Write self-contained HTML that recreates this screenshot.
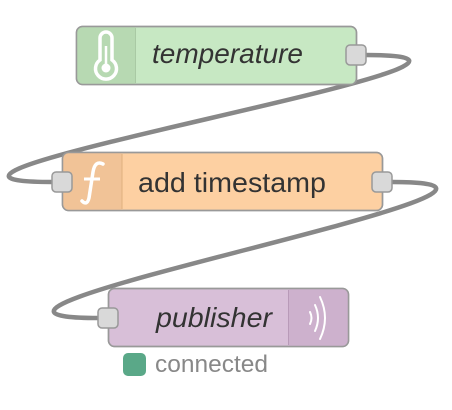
<!DOCTYPE html>
<html><head><meta charset="utf-8"><style>
html,body{margin:0;padding:0;background:#fff;}
svg{display:block;}
text{font-family:"Liberation Sans",sans-serif;}
</style></head><body>
<svg width="452" height="410" viewBox="0 0 452 410" xmlns="http://www.w3.org/2000/svg">
<g fill="none" stroke="#888" stroke-width="4.5">
<path d="M366,55 C596,55 -178,182 52,182"/>
<path d="M392,182 C622,182 -132,318 98,318"/>
</g>
<!-- temperature -->
<rect x="76.5" y="26.5" width="280" height="58" rx="6" fill="#c7e8c3" stroke="#999" stroke-width="1.5"/>
<path d="M82.5,26.5 h53 v58 h-53 a6,6 0 0 1 -6,-6 v-46 a6,6 0 0 1 6,-6z" fill="#b7d9b2"/>
<line x1="135.5" y1="28" x2="135.5" y2="83" stroke="#a9c9a4" stroke-width="1"/>
<rect x="76.5" y="26.5" width="280" height="58" rx="6" fill="none" stroke="#999" stroke-width="1.5"/>
<path d="M100,60 V38 a6,6 0 0 1 12,0 V60 A10.5,10.5 0 1 1 100,60 Z" fill="none" stroke="#fff" stroke-width="3.5"/>
<circle cx="106" cy="68" r="4.5" fill="#fff"/>
<line x1="106" y1="46" x2="106" y2="66" stroke="#fff" stroke-width="2.5"/>
<text x="152" y="63" font-size="28" font-style="italic" fill="#333" textLength="151" lengthAdjust="spacingAndGlyphs">temperature</text>
<rect x="346" y="45" width="20" height="20" rx="4" fill="#d9d9d9" stroke="#999" stroke-width="1.5"/>
<!-- add timestamp -->
<rect x="62.5" y="152.5" width="320" height="58" rx="6" fill="#fdd0a2" stroke="#999" stroke-width="1.5"/>
<path d="M68.5,152.5 h53 v58 h-53 a6,6 0 0 1 -6,-6 v-46 a6,6 0 0 1 6,-6z" fill="#f1c397"/>
<line x1="122" y1="154" x2="122" y2="209" stroke="#e0b07f" stroke-width="1"/>
<rect x="62.5" y="152.5" width="320" height="58" rx="6" fill="none" stroke="#999" stroke-width="1.5"/>
<path d="M103,164 q-8,-4 -10,8 l-4,26 q-2,8 -7,3" fill="none" stroke="#fff" stroke-width="3.5" stroke-linecap="round"/>
<line x1="84" y1="179" x2="100" y2="179" stroke="#fff" stroke-width="3"/>
<text x="138" y="192" font-size="28" fill="#333" textLength="188" lengthAdjust="spacingAndGlyphs">add timestamp</text>
<rect x="52" y="172" width="20" height="20" rx="4" fill="#d9d9d9" stroke="#999" stroke-width="1.5"/>
<rect x="372" y="172" width="20" height="20" rx="4" fill="#d9d9d9" stroke="#999" stroke-width="1.5"/>
<!-- publisher -->
<rect x="108.5" y="288.5" width="240" height="58" rx="6" fill="#d8bfd8" stroke="#999" stroke-width="1.5"/>
<path d="M288.5,288.5 h54 a6,6 0 0 1 6,6 v46 a6,6 0 0 1 -6,6 h-54z" fill="#cdb1cd"/>
<line x1="288.5" y1="290" x2="288.5" y2="345" stroke="#b89ab8" stroke-width="1"/>
<rect x="108.5" y="288.5" width="240" height="58" rx="6" fill="none" stroke="#999" stroke-width="1.5"/>
<g fill="none" stroke="#fff" stroke-width="2" stroke-linecap="round">
<path d="M310,312 q3,6 0,12"/>
<path d="M315,305 q6,13 0,26"/>
<path d="M320,297 q10,21 0,42"/>
</g>
<text x="156" y="327" font-size="28" font-style="italic" fill="#333" textLength="116" lengthAdjust="spacingAndGlyphs">publisher</text>
<rect x="98" y="308" width="20" height="20" rx="4" fill="#d9d9d9" stroke="#999" stroke-width="1.5"/>
<!-- status -->
<rect x="123" y="353" width="23" height="23" rx="5" fill="#5aa888"/>
<text x="155" y="372" font-size="24" fill="#888" textLength="113" lengthAdjust="spacingAndGlyphs">connected</text>
</svg>
</body></html>
